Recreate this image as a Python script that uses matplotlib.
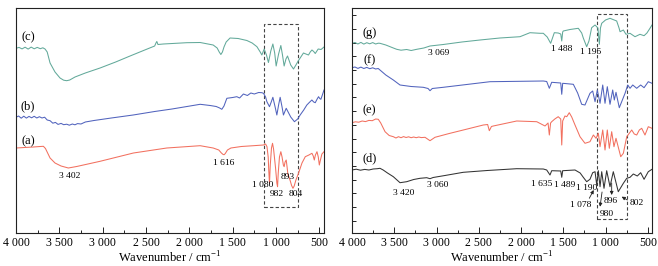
"""FTIR spectra of samples (a)-(g), two panels"""
import numpy as np
import matplotlib
matplotlib.use("Agg")
import matplotlib.pyplot as plt
from matplotlib.patches import Rectangle
from matplotlib.ticker import FuncFormatter, MultipleLocator

plt.rcParams['font.family'] = ['Liberation Serif', 'DejaVu Serif']
plt.rcParams['mathtext.fontset'] = 'custom'
plt.rcParams['mathtext.rm'] = 'Liberation Serif'

TEAL = '#62a99a'
BLUE = '#5163bd'
RED = '#f2705f'
BLACK = '#333333'

# ---- left panel: (c), (b), (a)   (x = wavenumber / cm-1, y = offset transmittance)
c_wn = [4000, 3965, 3930, 3895, 3860, 3825, 3790, 3755, 3720, 3690,
        3665, 3640, 3607, 3550, 3492, 3450, 3415, 3380, 3319, 3200,
        3030, 2850, 2684, 2500, 2400, 2385, 2375, 2362, 2300, 2029,
        1875, 1725, 1679, 1655, 1636, 1618, 1600, 1575, 1530, 1437,
        1336, 1275, 1220, 1182, 1163, 1150, 1136, 1110, 1087, 1060,
        1036, 1015, 998, 970, 944, 925, 906, 885, 867, 830,
        798, 770, 744, 683, 655, 625, 605, 585, 565, 547,
        513, 480, 446]
c_t = [184.7, 185.6, 184.1, 185.8, 183.9, 185.9, 184.2, 185.6, 184.3, 185.2,
       184, 181, 170, 161, 155, 152.8, 152.3, 153, 156, 160,
       165, 171, 177, 183.5, 187, 190, 191.5, 188.5, 189, 190.3,
       190.5, 188, 185, 181, 178.5, 181, 186, 191, 195, 194.5,
       192.5, 190, 186.3, 181, 178, 181, 184, 178, 170.5, 182,
       189, 180, 167, 179, 187.5, 178, 167, 174, 177, 168,
       164, 168, 172, 180, 179, 178, 181, 183, 181.5, 179.5,
       184, 183.5, 186]

b_wn = [4000, 3970, 3940, 3910, 3880, 3850, 3820, 3790, 3760, 3730,
        3700, 3670, 3640, 3607, 3575, 3545, 3515, 3480, 3450, 3415,
        3385, 3350, 3320, 3290, 3250, 3200, 3100, 2900, 2648, 2400,
        2200, 1875, 1760, 1690, 1650, 1625, 1600, 1567, 1500, 1452,
        1420, 1376, 1330, 1290, 1250, 1200, 1163, 1144, 1120, 1105,
        1075, 1055, 1036, 1010, 990, 970, 952, 930, 914, 900,
        882, 830, 787, 750, 721, 680, 644, 610, 586, 565,
        547, 525, 509, 495, 482, 465, 446]
b_t = [115.7, 117, 114.8, 116.8, 114.9, 116.6, 115.2, 116.7, 115, 116.3,
       115, 115.8, 113, 112.3, 109.8, 110.6, 108.6, 109.6, 108.3, 108.8,
       107.8, 109, 108.2, 109.4, 109, 111, 112.5, 115, 118, 121.5,
       124, 128.7, 127.5, 126.5, 125, 123.7, 127, 134.7, 135.5, 136.3,
       135, 139, 137.5, 140, 139, 140.5, 140.3, 139.7, 136, 131.3,
       126.3, 131, 135.7, 126, 118, 128, 135.7, 126, 118, 121,
       124.7, 116, 111.3, 114, 118, 123, 128, 131, 133, 131,
       130.3, 134, 136.3, 134.5, 133.7, 138, 143]

a_wn = [4000, 3900, 3800, 3720, 3684, 3660, 3635, 3607, 3550, 3480,
        3396, 3300, 3030, 2645, 2260, 1875, 1725, 1660, 1630, 1610,
        1598, 1585, 1560, 1520, 1400, 1260, 1145, 1120, 1104, 1090,
        1083, 1075, 1066, 1052, 1040, 1028, 1005, 990, 982, 974,
        960, 944, 930, 915, 906, 895, 882, 872, 862, 850,
        835, 820, 804, 790, 770, 739, 700, 662, 620, 585,
        570, 558, 545, 527, 512, 500, 490, 470, 446]
a_t = [85, 85.5, 86, 86.5, 86.7, 84.5, 80, 75, 70, 67,
       65, 66.5, 71.7, 80, 85, 87.3, 85, 83, 80, 78.5,
       78.3, 79.5, 83, 85, 86.5, 87.3, 88, 89, 86.3, 76,
       62, 49.7, 68, 85, 89.7, 84, 65, 50, 46.3, 60,
       76, 81.3, 76, 68, 66.3, 71, 73, 66, 58, 56,
       52, 47.5, 44.7, 47, 53, 60, 70, 76.3, 78, 79.7,
       77, 73, 78, 81.3, 76, 68, 72, 79, 81.3]

# ---- right panel: (g), (f), (e), (d)
g_wn = [4000, 3965, 3930, 3895, 3860, 3825, 3790, 3755, 3720, 3690,
        3669, 3600, 3511, 3471, 3420, 3353, 3300, 3234, 3150, 3077,
        2920, 2700, 2485, 2250, 2012, 1894, 1775, 1736, 1690, 1649,
        1606, 1560, 1530, 1518, 1507, 1500, 1420, 1322, 1282, 1263,
        1223, 1196, 1164, 1124, 1090, 1073, 1060, 1045, 1000, 947,
        868, 840, 828, 789, 758, 710, 651, 592, 544, 510,
        474, 450]
g_t = [189.7, 190.5, 189, 190.6, 188.9, 190.3, 189.2, 190.4, 189, 189.8,
       189.7, 188, 185, 183.7, 182.8, 183.5, 182.5, 183.7, 185, 187,
       188.5, 191, 193, 195, 196.3, 200.3, 199.7, 199.7, 196, 189.7,
       200.3, 200, 199, 192, 201, 202, 203.5, 204.7, 200, 195,
       186.3, 192, 205.3, 208, 205, 188.7, 205, 209.7, 213, 214.7,
       212, 205, 201.3, 203, 198.7, 199.7, 196.3, 198.7, 197.3, 200,
       204.7, 208]

f_wn = [4000, 3965, 3930, 3895, 3860, 3825, 3790, 3755, 3720, 3690,
        3669, 3600, 3511, 3432, 3300, 3156, 3100, 3077, 3050, 2920,
        2367, 1736, 1696, 1665, 1637, 1530, 1518, 1507, 1381, 1330,
        1282, 1243, 1184, 1152, 1124, 1097, 1065, 1033, 1006, 979,
        947, 915, 896, 876, 837, 769, 737, 710, 678, 631,
        584, 544, 494, 450]
f_t = [165.3, 166, 164.6, 165.9, 164.5, 165.6, 164.3, 165.2, 164, 164.5,
       163, 158, 153, 148, 146.5, 145.7, 144.5, 142.3, 144.5, 145.7,
       151.3, 152, 151.5, 144.7, 150.7, 150, 138.7, 149.7, 148.7, 140,
       128.7, 128, 139.7, 142, 131.3, 143, 129.7, 148, 129.7, 146.3,
       128.7, 143, 133, 140.7, 125.3, 139.7, 148, 144.7, 148, 144.7,
       148, 145.3, 151.3, 149.7]

e_wn = [4000, 3960, 3920, 3880, 3840, 3800, 3760, 3720, 3689, 3660,
        3609, 3560, 3511, 3480, 3450, 3420, 3390, 3360, 3330, 3300,
        3270, 3240, 3210, 3180, 3136, 3077, 3018, 2850, 2683, 2446,
        2395, 2375, 2350, 2328, 2051, 1814, 1716, 1680, 1665, 1650,
        1637, 1600, 1560, 1530, 1518, 1507, 1480, 1459, 1429, 1400,
        1361, 1302, 1243, 1184, 1144, 1112, 1085, 1065, 1033, 1006,
        979, 955, 927, 900, 876, 820, 789, 749, 690, 660,
        631, 600, 572, 533, 494, 450]
e_t = [110.3, 111.2, 110.8, 112, 111.4, 112.6, 112.3, 114, 113.7, 110,
       101.3, 97.5, 96.3, 95, 96.3, 95.3, 96.4, 95.5, 96.2, 95.3,
       96, 95.3, 96, 95.4, 95.7, 92.3, 95.7, 99.5, 103, 108,
       108.5, 102.3, 106.5, 107, 112, 111.3, 107, 110, 98, 110,
       111.3, 114, 116.3, 114, 88, 112, 117, 116.3, 120.3, 116,
       108, 96.3, 89.7, 91.3, 98, 94.7, 99.7, 86.3, 103, 83,
       103, 84.7, 101.3, 86.3, 94.7, 76.3, 79.7, 96.3, 103, 99,
       98, 103, 104.7, 98, 106.3, 104.7]

d_wn = [4000, 3950, 3900, 3850, 3800, 3750, 3700, 3669, 3631, 3580,
        3511, 3432, 3353, 3270, 3195, 3116, 3077, 3040, 2900, 2683,
        2400, 2051, 1736, 1696, 1657, 1637, 1530, 1518, 1507, 1361,
        1300, 1263, 1223, 1184, 1152, 1124, 1104, 1085, 1065, 1045,
        1018, 986, 947, 908, 849, 789, 749, 710, 671, 624,
        584, 544, 494, 450]
d_t = [63, 63.8, 62.8, 63.6, 63, 64, 64.3, 64.7, 63, 60,
       56.3, 50.3, 51.3, 53.5, 54.7, 55.3, 54.3, 55.5, 57.5, 60.7,
       62.5, 64.3, 64, 63, 58, 62.3, 62, 55.7, 62.3, 63,
       60, 55.7, 51.3, 53.7, 60.3, 61.3, 48, 62.3, 46.3, 61.3,
       44.7, 62.3, 46.3, 61.3, 41.3, 49.7, 54.7, 55.7, 59, 57,
       60.3, 53.7, 61.3, 63.7]

# curve name labels and peak labels: (text, wavenumber, y)
left_names = [('(c)', 3861, 196), ('(b)', 3861, 127), ('(a)', 3861, 92)]
left_peaks = [('3 402', 3376, 57.3), ('1 616', 1598, 70), ('1 080', 1150, 48.3),
              ('893', 870, 55.7), ('982', 990, 39), ('804', 776, 39)]
right_names = [('(g)', 3795, 199.7), ('(f)', 3795, 172.3), ('(e)', 3795, 123),
               ('(d)', 3787, 74.3)]
right_peaks = [('3 069', 2979, 179.7), ('1 488', 1518, 183.7), ('1 195', 1172, 181.3),
               ('3 420', 3385, 40), ('3 060', 2991, 48.3), ('1 635', 1755, 49),
               ('1 489', 1479, 48.3), ('1 190', 1223, 44.7), ('1 078', 1294, 28),
               ('980', 986, 19), ('896', 939, 32.3), ('802', 631, 29.7)]
# arrows: (tail wn, tail y, head wn, head y)
right_arrows = [(1192, 34.7, 1140, 43), (1041, 41, 1065, 26.3),
                (927, 50, 927, 38), (742, 33, 809, 36.3)]


def thousands(v, pos):
    return f"{int(round(v)):,}".replace(",", " ")


def style_axis(ax, xmax_right):
    ax.set_xlim(4000, xmax_right)
    ax.set_ylim(0, 225)
    ax.xaxis.set_major_locator(MultipleLocator(500))
    ax.xaxis.set_minor_locator(MultipleLocator(250))
    ax.xaxis.set_major_formatter(FuncFormatter(thousands))
    ax.tick_params(axis='x', which='major', direction='in', length=4, width=0.6,
                   labelsize=8.5, pad=3)
    ax.tick_params(axis='x', which='minor', direction='in', length=2.5, width=0.6)
    ax.set_xlabel('Wavenumber / cm$^{-1}$', fontsize=9, labelpad=1)
    for s in ax.spines.values():
        s.set_linewidth(0.8)
        s.set_color('#222222')


fig = plt.figure(figsize=(6.58, 2.66), dpi=100)
ax1 = fig.add_axes([16 / 658, 33 / 266, 308 / 658, 225 / 266])
ax2 = fig.add_axes([352 / 658, 33 / 266, 300 / 658, 225 / 266])

lw = 0.75
ax1.plot(c_wn, c_t, color=TEAL, lw=lw)
ax1.plot(b_wn, b_t, color=BLUE, lw=lw)
ax1.plot(a_wn, a_t, color=RED, lw=lw)

ax2.plot(g_wn, g_t, color=TEAL, lw=lw)
ax2.plot(f_wn, f_t, color=BLUE, lw=lw)
ax2.plot(e_wn, e_t, color=RED, lw=lw)
ax2.plot(d_wn, d_t, color=BLACK, lw=lw)

style_axis(ax1, 446)
style_axis(ax2, 450)
ax1.set_yticks([])
ax2.set_yticks(np.arange(12.3, 225, 27.4))
ax2.set_yticks(np.arange(26.0, 225, 27.4), minor=True)
ax2.tick_params(axis='y', which='both', direction='in', length=3, width=0.6,
                labelleft=False)

# dashed boxes around the fingerprint region
ax1.add_patch(Rectangle((1136, 26), 747 - 1136, 208.7 - 26, fill=False,
                        ls=(0, (3, 2)), lw=0.8, ec='#444444'))
ax2.add_patch(Rectangle((1104, 13.7), 749 - 1104, 219 - 13.7, fill=False,
                        ls=(0, (3, 2)), lw=0.8, ec='#444444'))

for txt, x, y in left_names:
    ax1.text(x, y, txt, fontsize=9, ha='center', va='center')
for txt, x, y in right_names:
    ax2.text(x, y, txt, fontsize=9, ha='center', va='center')
for txt, x, y in left_peaks:
    ax1.text(x, y, txt, fontsize=6.8, ha='center', va='center')
for txt, x, y in right_peaks:
    ax2.text(x, y, txt, fontsize=6.8, ha='center', va='center')
for x0, y0, x1, y1 in right_arrows:
    ax2.annotate('', xy=(x1, y1), xytext=(x0, y0),
                 arrowprops=dict(arrowstyle='-|>', lw=0.6, color='#222222',
                                 mutation_scale=5, shrinkA=0, shrinkB=0))

fig.savefig('out.png', dpi=100)
print("saved out.png")
